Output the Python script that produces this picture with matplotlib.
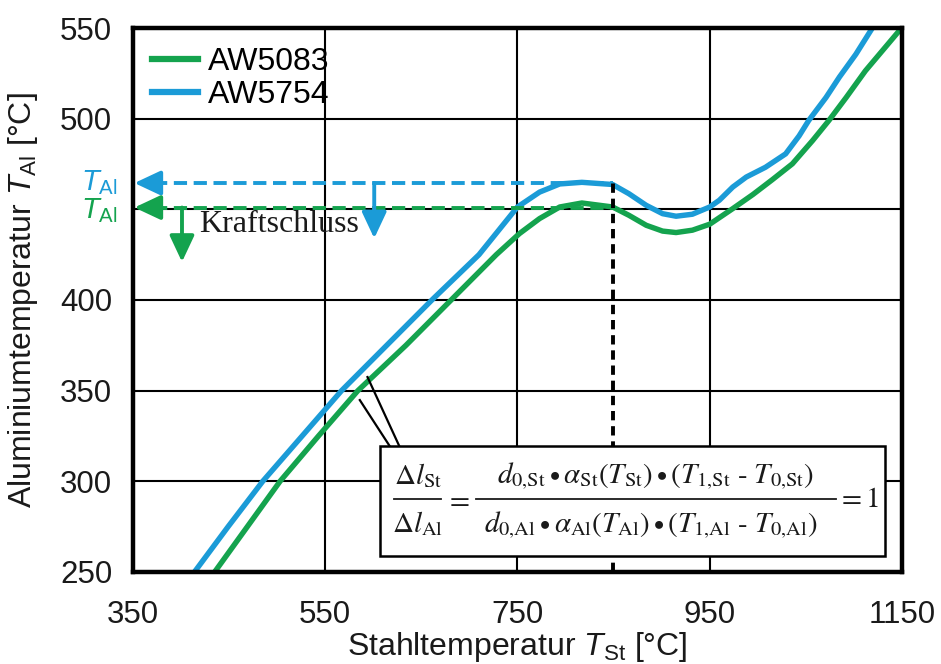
import matplotlib
matplotlib.use("Agg")
import matplotlib.pyplot as plt
from matplotlib.patches import Rectangle

plt.rcParams['font.family'] = ['Liberation Sans', 'DejaVu Sans']
plt.rcParams['mathtext.fontset'] = 'custom'
plt.rcParams['mathtext.rm'] = 'Liberation Sans'
plt.rcParams['mathtext.it'] = 'Liberation Sans:italic'
plt.rcParams['mathtext.bf'] = 'Liberation Sans:bold'

# ---- data ----
blue_T = [414, 449, 485, 526, 567, 614, 661, 710, 750, 773, 794, 817, 849, 866,
          884, 901, 915, 932, 950, 960, 974, 988, 1008, 1029, 1043, 1053, 1071,
          1085, 1102, 1118]
blue_Al = [250, 275, 300, 325, 350, 375, 400, 425, 451.3, 459.5, 464, 464.9,
           463.7, 458.6, 452.2, 447.6, 446.2, 447.3, 451.3, 455, 462.3, 467.8,
           473.2, 480.6, 490.5, 499, 511.7, 523, 535.5, 549]
green_T = [435, 469, 503, 543, 584, 634, 681, 728, 752, 773, 794, 817, 849, 866,
           884, 901, 915, 932, 950, 974, 995, 1015, 1036, 1057, 1074, 1092, 1112,
           1147]
green_Al = [250, 275, 300, 325, 350, 375, 400, 425, 436.6, 444.9, 451.3, 453.5,
            451.3, 446.7, 441.2, 438, 437.2, 438.5, 441.8, 450.4, 458.2, 466.3,
            475.1, 487.9, 499, 511.7, 526.4, 548.4]

labels = ["AW5083", "AW5754"]
xticks = [350, 550, 750, 950, 1150]
yticks = [250, 300, 350, 400, 450, 500, 550]
ytick_labels = ["250", "300", "350", "400", "", "500", "550"]

T_contact = 849
blue_level = 464.5
green_level = 451

BLUE = "#1B9BD7"
GREEN = "#14A34E"
TXT = "#1a1a1a"

fig = plt.figure(figsize=(9.41, 6.64), dpi=100)
ax = fig.add_axes([0.1413, 0.1386, 0.8172, 0.8192])

ax.set_xlim(350, 1150)
ax.set_ylim(250, 550)
ax.set_xticks(xticks)
ax.set_yticks(yticks)
ax.set_xticklabels([str(t) for t in xticks])
ax.set_yticklabels(ytick_labels)
ax.tick_params(length=0, labelsize=22.5, colors=TXT)
ax.tick_params(axis='x', pad=20)
ax.tick_params(axis='y', pad=15)
ax.grid(True, color="black", linewidth=1.5, zorder=0)
ax.set_axisbelow(True)
for s in ax.spines.values():
    s.set_linewidth(3.2)
    s.set_zorder(8)

ax.plot(green_T, green_Al, color=GREEN, lw=3.9, label=labels[0], zorder=3)
ax.plot(blue_T, blue_Al, color=BLUE, lw=3.9, label=labels[1], zorder=3)

leg = ax.legend(loc='upper left', frameon=False, fontsize=23,
                handlelength=1.45, handletextpad=0.3, labelspacing=0.1,
                borderaxespad=0.25, borderpad=0.35)
for l in leg.get_lines():
    l.set_linewidth(4.5)

head = '-|>,head_length=1.6,head_width=0.75'

# dashed horizontal lines with arrowheads
for lev, col in [(blue_level, BLUE), (green_level, GREEN)]:
    ax.plot([372, T_contact], [lev, lev], color=col, lw=2.8,
            dashes=(3.4, 1.7), zorder=4)
    ax.annotate("", xy=(351.5, lev), xytext=(380, lev),
                arrowprops=dict(arrowstyle=head, color=col, lw=2.8,
                                shrinkA=0, shrinkB=0), zorder=5)

# vertical dotted black line
ax.plot([T_contact, T_contact], [250, blue_level], color="black", lw=2.8,
        dashes=(2.4, 1.5), zorder=4)

# down arrows
ax.annotate("", xy=(601, 434), xytext=(601, blue_level),
            arrowprops=dict(arrowstyle=head, color=BLUE, lw=2.8,
                            shrinkA=0, shrinkB=0), zorder=5)
ax.annotate("", xy=(401, 421), xytext=(401, green_level),
            arrowprops=dict(arrowstyle=head, color=GREEN, lw=2.8,
                            shrinkA=0, shrinkB=0), zorder=5)

ax.text(419, 441.5, "Kraftschluss", fontsize=23, family='Liberation Serif',
        color=TXT, va='center', ha='left', zorder=5)

# T_Al labels on left
ax.text(-0.02, (blue_level - 250) / 300, r"$T_{\mathrm{Al}}$", transform=ax.transAxes,
        color=BLUE, fontsize=21, ha='right', va='center')
ax.text(-0.02, (green_level - 250) / 300 - 0.006, r"$T_{\mathrm{Al}}$", transform=ax.transAxes,
        color=GREEN, fontsize=21, ha='right', va='center')

# leader lines
ax.plot([594, 627], [357.5, 319.5], color="black", lw=1.6, zorder=5)
ax.plot([586, 617], [344.8, 319.5], color="black", lw=1.6, zorder=5)

# formula box
ax.add_patch(Rectangle((606.5, 258.8), 525.5, 60.7, facecolor='white',
                       edgecolor='black', linewidth=1.8, zorder=6))
fkw = dict(fontsize=21, math_fontfamily='stix', ha='center', va='center',
           zorder=7, color=TXT)
ax.text(646.5, 303.0, r"$\Delta l_{\mathrm{St}}$", **fkw)
ax.text(646.5, 276.5, r"$\Delta l_{\mathrm{Al}}$", **fkw)
ax.plot([622, 670], [290.3, 290.3], color=TXT, lw=1.3, zorder=7)
ax.text(687, 290.3, r"$=$", **fkw)
ax.text(894, 303.0,
        r"$d_{0{,}\mathrm{St}}\bullet\alpha_{\mathrm{St}}(T_{\mathrm{St}})\bullet(T_{1{,}\mathrm{St}}\ \text{-}\ T_{0{,}\mathrm{St}})$",
        **fkw)
ax.plot([707, 1081], [290.3, 290.3], color=TXT, lw=1.3, zorder=7)
ax.text(889, 275.8,
        r"$d_{0{,}\mathrm{Al}}\bullet\alpha_{\mathrm{Al}}(T_{\mathrm{Al}})\bullet(T_{1{,}\mathrm{Al}}\ \text{-}\ T_{0{,}\mathrm{Al}})$",
        **fkw)
ax.text(1104, 290.3, r"$= 1$", **fkw)

ax.set_xlabel(r"Stahltemperatur $T_{\mathrm{St}}$ [°C]", fontsize=23,
              color=TXT, labelpad=0.5)
ax.set_ylabel(r"Aluminiumtemperatur $T_{\mathrm{Al}}$ [°C]", fontsize=23,
              color=TXT, labelpad=14)

fig.savefig("out.png", dpi=100)
